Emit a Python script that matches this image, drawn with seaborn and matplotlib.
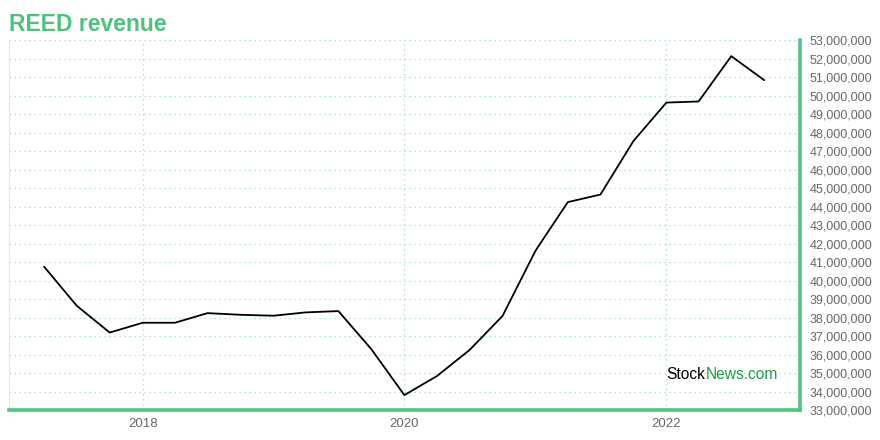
import matplotlib
matplotlib.use("Agg")
import matplotlib.pyplot as plt
import matplotlib.ticker as mticker
import seaborn as sns
import pandas as pd

# quarterly revenue readings
quarters = ["2017-04-01", "2017-07-01", "2017-10-01", "2018-01-01", "2018-04-01",
            "2018-07-01", "2018-10-01", "2019-01-01", "2019-04-01", "2019-07-01",
            "2019-10-01", "2020-01-01", "2020-04-01", "2020-07-01", "2020-10-01",
            "2021-01-01", "2021-04-01", "2021-07-01", "2021-10-01", "2022-01-01",
            "2022-04-01", "2022-07-01", "2022-10-01"]
revenue = [40.75e6, 38.64e6, 37.19e6, 37.72e6, 37.72e6,
           38.24e6, 38.15e6, 38.10e6, 38.28e6, 38.35e6,
           36.29e6, 33.81e6, 34.84e6, 36.25e6, 38.09e6,
           41.62e6, 44.24e6, 44.65e6, 47.54e6, 49.62e6,
           49.68e6, 52.13e6, 50.83e6]
year_ticks = ["2018-01-01", "2020-01-01", "2022-01-01"]
year_labels = ["2018", "2020", "2022"]

df = pd.DataFrame({"date": pd.to_datetime(quarters), "revenue": revenue})

GREEN = "#55c285"
GRID = "#a0dcb9"

sns.set_style("white")
plt.rcParams["font.family"] = ["Liberation Sans", "DejaVu Sans"]

fig = plt.figure(figsize=(8.8, 4.4), dpi=100)
ax = fig.add_axes([0.0102, 0.068, 0.899, 0.841])

sns.lineplot(data=df, x="date", y="revenue", color="black", linewidth=1.3, ax=ax)

ax.set_xlim(pd.Timestamp("2016-12-24"), pd.Timestamp("2023-01-09"))
ax.set_ylim(33e6, 53e6)

ax.set_xticks(pd.to_datetime(year_ticks))
ax.set_xticklabels(year_labels)
ax.yaxis.set_major_locator(mticker.MultipleLocator(1e6))
ax.yaxis.set_major_formatter(mticker.FuncFormatter(lambda v, p: f"{v:,.0f}"))
ax.yaxis.tick_right()
ax.tick_params(axis="both", length=0, labelsize=9, labelcolor="#666666")
ax.tick_params(axis="x", labelsize=9.5)
ax.tick_params(axis="y", pad=7)
ax.tick_params(axis="x", pad=6)
ax.set_xlabel("")
ax.set_ylabel("")

ax.grid(True, color=GRID, linestyle=(0, (1, 3)), linewidth=0.9)

ax.spines["top"].set_visible(False)
ax.spines["left"].set_color("#e6e6e6")
ax.spines["left"].set_linewidth(0.8)
ax.spines["right"].set_color(GREEN)
ax.spines["right"].set_linewidth(2.6)
ax.spines["bottom"].set_color(GREEN)
ax.spines["bottom"].set_linewidth(2.6)

fig.text(0.01, 0.93, "REED revenue", color="#4fc07f", fontsize=16.5, fontweight="bold",
         va="baseline", ha="left")

t1 = ax.text(0.831, 0.083, "Stock", transform=ax.transAxes, fontsize=11.2,
             color="black", ha="left", va="baseline")
ax.annotate("News.com", xy=(1, 0), xycoords=t1, fontsize=11.2, color="#1e9a4a",
            ha="left", va="bottom")

fig.savefig("out.png", dpi=100)
